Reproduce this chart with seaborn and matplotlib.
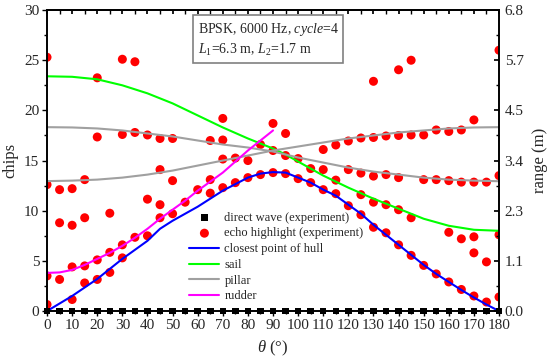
import numpy as np
import seaborn as sns
import matplotlib.pyplot as plt
from matplotlib.ticker import MultipleLocator, FixedLocator

# ----------------------------
# data
# ----------------------------
direct_theta = list(range(0, 181, 5))
direct_chips = [0.0] * len(direct_theta)

echo_theta = ([0] * 4 + [5] * 3 + [10] * 4 + [15] * 4 + [20] * 4 + [25] * 3 + [30] * 4 + [35] * 3
              + [40] * 3 + [45] * 4 + [50] * 3 + [55] + [60] + [65] * 3 + [70] * 4 + [75] * 2
              + [80] * 2 + [85] * 2 + [90] * 3 + [95] * 3 + [100] * 2 + [105] * 2 + [110] * 3
              + [115] * 3 + [120] * 3 + [125] * 4 + [130] * 5 + [135] * 4 + [140] * 5 + [145] * 4
              + [150] * 3 + [155] * 3 + [160] * 4 + [165] * 4 + [170] * 5 + [175] * 3 + [180] * 4)
echo_chips = [25.3, 12.6, 3.5, 0.65,
              12.1, 8.8, 3.15,
              12.2, 8.55, 4.4, 1.15,
              13.1, 9.3, 4.5, 2.8,
              23.25, 17.35, 5.1, 3.15,
              9.75, 5.85, 3.85,
              25.1, 17.6, 6.6, 5.3,
              24.85, 17.8, 7.35,
              17.55, 11.15, 7.5,
              17.2, 14.1, 10.6, 9.3,
              17.2, 13.0, 9.7,
              10.85,
              12.1,
              17.0, 13.1, 11.75,
              19.2, 17.05, 15.15, 12.3,
              15.25, 12.8,
              15.0, 13.3,
              16.6, 13.6,
              18.7, 16.0, 13.8,
              17.7, 15.5, 13.7,
              15.2, 13.2,
              14.2, 12.8,
              16.1, 14.1, 12.1,
              16.55, 13.05, 11.7,
              16.95, 14.1, 10.5,
              17.25, 13.75, 11.6, 9.6,
              22.9, 17.3, 13.45, 10.85, 8.35,
              17.45, 13.6, 10.6, 7.8,
              24.05, 17.5, 13.3, 10.1, 6.6,
              25.0, 17.55, 9.3, 5.55,
              17.55, 13.1, 4.55,
              18.05, 13.1, 3.7,
              17.9, 13.0, 7.85, 2.9,
              18.05, 12.85, 7.2, 2.15,
              19.05, 12.85, 7.4, 5.8, 1.5,
              12.85, 4.9, 0.9,
              26.0, 13.5, 7.6, 1.4]

hull_theta = [0, 10, 20, 30, 40, 45, 50, 60, 70, 80, 85, 90, 95, 100, 105, 110, 115, 120,
              125, 130, 135, 140, 145, 150, 155, 160, 165, 170, 175, 180]
hull_chips = [0, 1.5, 3.2, 5.2, 7.0, 8.2, 9.0, 10.4, 12.0, 13.3, 13.7, 13.85, 13.8, 13.3, 12.8,
              12.1, 11.5, 10.6, 9.7, 8.6, 7.6, 6.6, 5.6, 4.6, 3.7, 2.9, 2.1, 1.35, 0.65, 0]

sail_theta = [0, 10, 20, 30, 40, 50, 60, 70, 80, 90, 95, 100, 110, 120, 130, 140, 150, 160, 170, 180]
sail_chips = [23.4, 23.35, 23.1, 22.5, 21.7, 20.7, 19.5, 18.3, 17.2, 16.2, 15.6, 14.9, 13.5,
              12.3, 11.2, 10.2, 9.2, 8.5, 8.1, 8.0]

pillar_theta = [0, 10, 20, 30, 40, 50, 60, 70, 80, 90, 100, 110, 120, 130, 140, 150, 160, 170, 180]
pillar1_chips = [18.33, 18.3, 18.2, 18.0, 17.7, 17.4, 17.0, 16.6, 16.3, 15.9, 15.3, 14.8, 14.3,
                 13.9, 13.6, 13.3, 13.1, 13.0, 12.94]
pillar2_chips = [12.95, 13.0, 13.1, 13.3, 13.6, 14.0, 14.5, 15.0, 15.5, 16.0, 16.4, 16.8, 17.2,
                 17.5, 17.8, 18.0, 18.2, 18.3, 18.33]

rudder_theta = [0, 5, 10, 15, 20, 25, 30, 35, 40, 45, 50, 55, 60, 65, 70, 75, 80, 85, 90]
rudder_chips = [3.8, 3.85, 4.1, 4.6, 5.2, 5.8, 6.5, 7.3, 8.2, 9.2, 10.1, 11.0, 12.0, 12.9, 13.8,
                14.9, 16.0, 17.0, 18.0]

range_max = 6.8
range_ticks = [0.0, 1.1333, 2.2667, 3.4, 4.5333, 5.6667, 6.8]
range_labels = ["0.0", "1.1", "2.3", "3.4", "4.5", "5.7", "6.8"]

# ----------------------------
# style
# ----------------------------
sns.set_theme(style="ticks")
plt.rcParams["font.family"] = ["Liberation Serif", "DejaVu Serif"]
plt.rcParams["mathtext.fontset"] = "custom"
plt.rcParams["mathtext.rm"] = "Liberation Serif"
plt.rcParams["mathtext.it"] = "Liberation Serif:italic"
plt.rcParams["axes.edgecolor"] = "black"
plt.rcParams["axes.linewidth"] = 1.2

fig = plt.figure(figsize=(5.5, 3.6), dpi=100)
ax = fig.add_axes([0.0855, 0.136, 0.8218, 0.836])

sns.scatterplot(x=direct_theta, y=direct_chips, marker="s", color="black", s=22,
                edgecolor="none", clip_on=False, zorder=5, ax=ax,
                label="direct wave (experiment)")
sns.scatterplot(x=echo_theta, y=echo_chips, color="#ff0000", s=42, edgecolor="none",
                ax=ax, label="echo highlight (experiment)")
sns.lineplot(x=hull_theta, y=hull_chips, color="#0000ff", lw=1.5, ax=ax,
             label="closest point of hull")
sns.lineplot(x=sail_theta, y=sail_chips, color="#00ff00", lw=1.5, ax=ax, label="sail")
sns.lineplot(x=pillar_theta, y=pillar1_chips, color="#a0a0a0", lw=1.5, ax=ax, label="pillar")
sns.lineplot(x=pillar_theta, y=pillar2_chips, color="#a0a0a0", lw=1.5, ax=ax, label="_nolegend_")
sns.lineplot(x=rudder_theta, y=rudder_chips, color="#ff00ff", lw=1.5, ax=ax, label="rudder")

ax.set_xlim(0, 180)
ax.set_ylim(0, 30)
ax.xaxis.set_major_locator(MultipleLocator(10))
ax.xaxis.set_minor_locator(MultipleLocator(5))
ax.yaxis.set_major_locator(MultipleLocator(5))
ax.yaxis.set_minor_locator(MultipleLocator(2.5))
ax.tick_params(which="both", direction="out", labelsize=11, width=1.0, color="black",
               top=False, right=False, pad=2)
ax.tick_params(which="major", length=3.5)
ax.tick_params(which="minor", length=2.5)
ax.set_xlabel(r"$\theta$ (°)", fontsize=12, labelpad=5)
ax.set_ylabel("chips", fontsize=12, labelpad=4)
for s in ax.spines.values():
    s.set_visible(True)

# top axis: inward ticks, no labels
top = ax.secondary_xaxis("top")
top.xaxis.set_major_locator(MultipleLocator(10))
top.xaxis.set_minor_locator(MultipleLocator(5))
top.tick_params(which="both", direction="in", labeltop=False, length=3, color="black")

# right axis: range (m)
ax2 = ax.twinx()
ax2.set_ylim(0, range_max)
ax2.yaxis.set_major_locator(FixedLocator(range_ticks))
ax2.set_yticklabels(range_labels)
ax2.yaxis.set_minor_locator(FixedLocator([(a + b) / 2 for a, b in zip(range_ticks[:-1], range_ticks[1:])]))
ax2.tick_params(which="both", direction="in", labelsize=11, color="black", pad=4)
ax2.tick_params(which="major", length=3.5)
ax2.tick_params(which="minor", length=2.5)
ax2.set_ylabel("range (m)", fontsize=12, labelpad=6)
ax2.grid(False)

# legend in fixed order
handles, labels = ax.get_legend_handles_labels()
lookup = dict(zip(labels, handles))
order = ["direct wave (experiment)", "echo highlight (experiment)", "closest point of hull",
         "sail", "pillar", "rudder"]
ax.legend([lookup[k] for k in order], order, loc="upper left", bbox_to_anchor=(0.315, 0.33),
          frameon=False, fontsize=9, handlelength=2.4, handletextpad=0.4, labelspacing=0.3,
          borderaxespad=0, borderpad=0)

ax.text(0.333, 0.965, "BPSK, 6000 Hz, $\\it{cycle}$=4\n$L_1$=6.3 m, $L_2$=1.7 m",
        transform=ax.transAxes, ha="left", va="top", fontsize=10, linespacing=1.35,
        bbox=dict(boxstyle="square,pad=0.35", fc="white", ec="#808080", lw=1.2), zorder=6)

fig.savefig("out.png", dpi=100)
